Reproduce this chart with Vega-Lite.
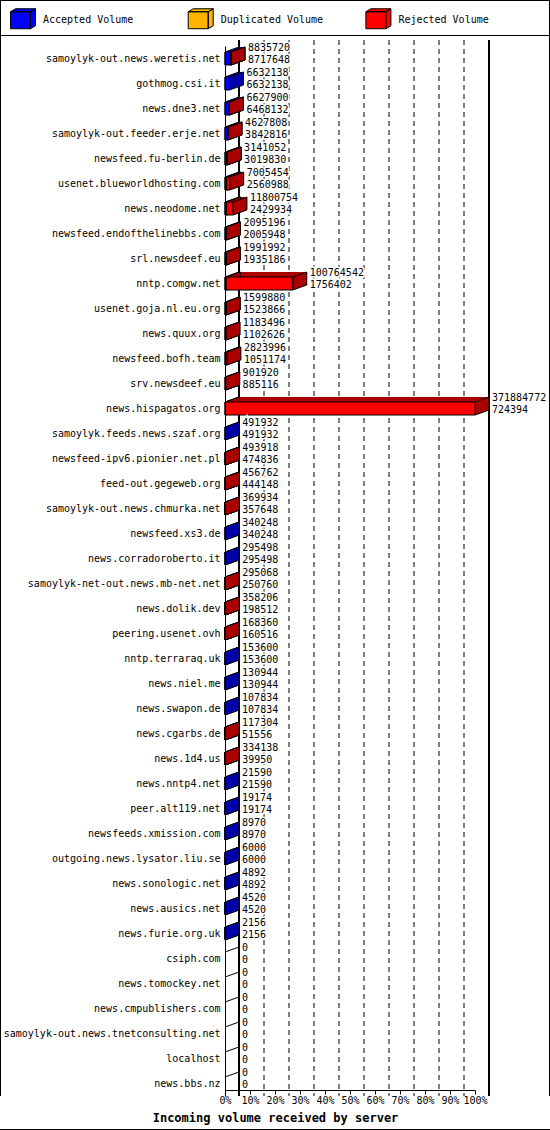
{
  "$schema": "https://vega.github.io/schema/vega-lite/v6.json",
  "width": 250,
  "height": 1050,
  "autosize": {"type": "none"},
  "padding": {"left": 225, "top": 46, "right": 75, "bottom": 34},
  "background": "white",
  "config": {
    "view": {"stroke": null},
    "font": "DejaVu Sans Mono",
    "axisY": {"labelFont": "DejaVu Sans Mono", "labelFontSize": 10, "labelColor": "black", "ticks": false, "domainColor": "black", "labelPadding": 5, "labelLimit": 300, "grid": false},
    "axisX": {"labelFont": "DejaVu Sans Mono", "labelFontSize": 10, "labelColor": "black", "tickColor": "black", "tickSize": 4, "domainColor": "black", "labelPadding": 1, "grid": false, "labelOverlap": false, "labelFlush": false}
  },
  "datasets": {
    "servers": [
      {"server": "samoylyk-out.news.weretis.net", "total": 8835720, "accepted": 8717648, "rejected": 118072},
      {"server": "gothmog.csi.it", "total": 6632138, "accepted": 6632138, "rejected": 0},
      {"server": "news.dne3.net", "total": 6627900, "accepted": 6468132, "rejected": 159768},
      {"server": "samoylyk-out.feeder.erje.net", "total": 4627808, "accepted": 3842816, "rejected": 784992},
      {"server": "newsfeed.fu-berlin.de", "total": 3141052, "accepted": 3019830, "rejected": 121222},
      {"server": "usenet.blueworldhosting.com", "total": 7005454, "accepted": 2560988, "rejected": 4444466},
      {"server": "news.neodome.net", "total": 11800754, "accepted": 2429934, "rejected": 9370820},
      {"server": "newsfeed.endofthelinebbs.com", "total": 2095196, "accepted": 2005948, "rejected": 89248},
      {"server": "srl.newsdeef.eu", "total": 1991992, "accepted": 1935186, "rejected": 56806},
      {"server": "nntp.comgw.net", "total": 100764542, "accepted": 1756402, "rejected": 99008140},
      {"server": "usenet.goja.nl.eu.org", "total": 1599880, "accepted": 1523866, "rejected": 76014},
      {"server": "news.quux.org", "total": 1183496, "accepted": 1102626, "rejected": 80870},
      {"server": "newsfeed.bofh.team", "total": 2823996, "accepted": 1051174, "rejected": 1772822},
      {"server": "srv.newsdeef.eu", "total": 901920, "accepted": 885116, "rejected": 16804},
      {"server": "news.hispagatos.org", "total": 371884772, "accepted": 724394, "rejected": 371160378},
      {"server": "samoylyk.feeds.news.szaf.org", "total": 491932, "accepted": 491932, "rejected": 0},
      {"server": "newsfeed-ipv6.pionier.net.pl", "total": 493918, "accepted": 474836, "rejected": 19082},
      {"server": "feed-out.gegeweb.org", "total": 456762, "accepted": 444148, "rejected": 12614},
      {"server": "samoylyk-out.news.chmurka.net", "total": 369934, "accepted": 357648, "rejected": 12286},
      {"server": "newsfeed.xs3.de", "total": 340248, "accepted": 340248, "rejected": 0},
      {"server": "news.corradoroberto.it", "total": 295498, "accepted": 295498, "rejected": 0},
      {"server": "samoylyk-net-out.news.mb-net.net", "total": 295068, "accepted": 250760, "rejected": 44308},
      {"server": "news.dolik.dev", "total": 358206, "accepted": 198512, "rejected": 159694},
      {"server": "peering.usenet.ovh", "total": 168360, "accepted": 160516, "rejected": 7844},
      {"server": "nntp.terraraq.uk", "total": 153600, "accepted": 153600, "rejected": 0},
      {"server": "news.niel.me", "total": 130944, "accepted": 130944, "rejected": 0},
      {"server": "news.swapon.de", "total": 107834, "accepted": 107834, "rejected": 0},
      {"server": "news.cgarbs.de", "total": 117304, "accepted": 51556, "rejected": 65748},
      {"server": "news.1d4.us", "total": 334138, "accepted": 39950, "rejected": 294188},
      {"server": "news.nntp4.net", "total": 21590, "accepted": 21590, "rejected": 0},
      {"server": "peer.alt119.net", "total": 19174, "accepted": 19174, "rejected": 0},
      {"server": "newsfeeds.xmission.com", "total": 8970, "accepted": 8970, "rejected": 0},
      {"server": "outgoing.news.lysator.liu.se", "total": 6000, "accepted": 6000, "rejected": 0},
      {"server": "news.sonologic.net", "total": 4892, "accepted": 4892, "rejected": 0},
      {"server": "news.ausics.net", "total": 4520, "accepted": 4520, "rejected": 0},
      {"server": "news.furie.org.uk", "total": 2156, "accepted": 2156, "rejected": 0},
      {"server": "csiph.com", "total": 0, "accepted": 0, "rejected": 0},
      {"server": "news.tomockey.net", "total": 0, "accepted": 0, "rejected": 0},
      {"server": "news.cmpublishers.com", "total": 0, "accepted": 0, "rejected": 0},
      {"server": "samoylyk-out.news.tnetconsulting.net", "total": 0, "accepted": 0, "rejected": 0},
      {"server": "localhost", "total": 0, "accepted": 0, "rejected": 0},
      {"server": "news.bbs.nz", "total": 0, "accepted": 0, "rejected": 0}
    ],
    "grid": [
      {"v": 37188477}, {"v": 74376954}, {"v": 111565432}, {"v": 148753909},
      {"v": 185942386}, {"v": 223130863}, {"v": 260319340}, {"v": 297507818},
      {"v": 334696295}
    ]
  },
  "data": {"name": "servers"},
  "layer": [
    {
      "data": {"name": "grid"},
      "mark": {"type": "rule", "color": "black", "strokeWidth": 1, "strokeDash": [5, 4], "xOffset": 14, "yOffset": -6, "y2Offset": -12},
      "encoding": {
        "x": {
          "field": "v", "type": "quantitative",
          "title": "Incoming volume received by server",
          "scale": {"domain": [0, 371884772], "nice": false, "zero": true},
          "axis": {
            "orient": "bottom", "offset": -6, "tickCount": 20,
            "values": [0, 37188477, 74376954, 111565432, 148753909, 185942386, 223130863, 260319340, 297507818, 334696295, 371884772],
            "labelExpr": "round(datum.value / 3718847.72) + '%'",
            "labelOverlap": false, "labelFlush": false, "labelBound": false,
            "titleFont": "DejaVu Sans Mono", "titleFontSize": 12, "titleFontWeight": "bold", "titleColor": "black",
            "titleX": 50, "titleY": 27, "titleAlign": "center", "titleBaseline": "middle"
          }
        }
      }
    },
    {
      "mark": {"type": "rule", "color": "black", "strokeWidth": 1, "xOffset": 14, "yOffset": -6, "y2Offset": -12},
      "encoding": {"x": {"datum": 0, "type": "quantitative", "title": "Incoming volume received by server"}}
    },
    {
      "mark": {"type": "rule", "color": "black", "strokeWidth": 1, "xOffset": 14, "yOffset": -6, "y2Offset": -12},
      "encoding": {"x": {"datum": 371884772, "type": "quantitative", "title": "Incoming volume received by server"}}
    },
    {
      "mark": {"type": "rule", "color": "black", "strokeWidth": 1, "yOffset": -46, "y2Offset": 34},
      "encoding": {"x": {"datum": -333950525, "type": "quantitative", "title": "Incoming volume received by server"}}
    },
    {
      "mark": {"type": "rule", "color": "black", "strokeWidth": 1, "yOffset": -46, "y2Offset": 34},
      "encoding": {"x": {"datum": 482706434, "type": "quantitative", "title": "Incoming volume received by server"}}
    },
    {
      "mark": {"type": "rule", "color": "black", "strokeWidth": 1, "yOffset": -58},
      "encoding": {
        "x": {"datum": -333950525, "type": "quantitative", "title": "Incoming volume received by server"},
        "x2": {"datum": 482706434},
        "y": {"datum": "samoylyk-out.news.weretis.net", "type": "nominal", "title": null}
      }
    },
    {
      "mark": {"type": "rule", "color": "black", "strokeWidth": 1, "yOffset": -23},
      "encoding": {
        "x": {"datum": -333950525, "type": "quantitative", "title": "Incoming volume received by server"},
        "x2": {"datum": 482706434},
        "y": {"datum": "samoylyk-out.news.weretis.net", "type": "nominal", "title": null}
      }
    },
    {
      "mark": {"type": "rule", "color": "black", "strokeWidth": 1, "yOffset": 46},
      "encoding": {
        "x": {"datum": -333950525, "type": "quantitative", "title": "Incoming volume received by server"},
        "x2": {"datum": 482706434},
        "y": {"datum": "news.bbs.nz", "type": "nominal", "title": null}
      }
    },
    {
      "transform": [{"filter": "datum.accepted > 0"}],
      "mark": {"type": "bar", "size": 13, "fill": "#0000AA", "strokeWidth": 0, "xOffset": 14, "x2Offset": 14, "yOffset": -5},
      "encoding": {
        "x": {"field": "accepted", "type": "quantitative", "title": "Incoming volume received by server"},
        "x2": {"datum": 0},
        "y": {
          "field": "server", "type": "nominal", "title": null,
          "scale": {
            "domain": ["samoylyk-out.news.weretis.net", "gothmog.csi.it", "news.dne3.net", "samoylyk-out.feeder.erje.net", "newsfeed.fu-berlin.de", "usenet.blueworldhosting.com", "news.neodome.net", "newsfeed.endofthelinebbs.com", "srl.newsdeef.eu", "nntp.comgw.net", "usenet.goja.nl.eu.org", "news.quux.org", "newsfeed.bofh.team", "srv.newsdeef.eu", "news.hispagatos.org", "samoylyk.feeds.news.szaf.org", "newsfeed-ipv6.pionier.net.pl", "feed-out.gegeweb.org", "samoylyk-out.news.chmurka.net", "newsfeed.xs3.de", "news.corradoroberto.it", "samoylyk-net-out.news.mb-net.net", "news.dolik.dev", "peering.usenet.ovh", "nntp.terraraq.uk", "news.niel.me", "news.swapon.de", "news.cgarbs.de", "news.1d4.us", "news.nntp4.net", "peer.alt119.net", "newsfeeds.xmission.com", "outgoing.news.lysator.liu.se", "news.sonologic.net", "news.ausics.net", "news.furie.org.uk", "csiph.com", "news.tomockey.net", "news.cmpublishers.com", "samoylyk-out.news.tnetconsulting.net", "localhost", "news.bbs.nz"],
            "paddingInner": 0, "paddingOuter": 0
          },
          "axis": {"orient": "left", "domain": true}
        }
      }
    },
    {
      "transform": [{"filter": "datum.accepted > 0"}],
      "mark": {"type": "point", "shape": "M0,-0.4643L1,-0.8214L1,0.1071L0,0.4643Z", "size": 784, "filled": true, "fill": "#0000AA", "stroke": "black", "strokeWidth": 1, "opacity": 1},
      "encoding": {
        "x": {"datum": 0, "type": "quantitative", "title": "Incoming volume received by server"},
        "y": {"field": "server", "type": "nominal", "title": null}
      }
    },
    {
      "transform": [{"filter": "datum.accepted > 0"}],
      "mark": {"type": "point", "shape": "M0,-0.4643L1,-0.8214L1,0.1071L0,0.4643Z", "size": 784, "filled": true, "fill": "#0000AA", "stroke": "black", "strokeWidth": 1, "opacity": 1},
      "encoding": {
        "x": {"field": "accepted", "type": "quantitative", "title": "Incoming volume received by server"},
        "y": {"field": "server", "type": "nominal", "title": null}
      }
    },
    {
      "transform": [{"filter": "datum.accepted > 0"}],
      "mark": {"type": "bar", "size": 13, "stroke": "black", "strokeWidth": 1, "opacity": 1},
      "encoding": {
        "x": {"field": "accepted", "type": "quantitative", "title": "Incoming volume received by server"},
        "x2": {"datum": 0},
        "y": {"field": "server", "type": "nominal", "title": null},
        "color": {
          "datum": "Accepted Volume", "type": "nominal",
          "scale": {"domain": ["Accepted Volume", "Duplicated Volume", "Rejected Volume"], "range": ["#0000FF", "#FFB400", "#FF0000"]},
          "legend": {
            "orient": "none", "legendX": -215, "legendY": -40, "direction": "horizontal", "columns": 3,
            "title": null, "padding": 0, "gridAlign": "all", "columnPadding": 39.7,
            "symbolType": "M-1,-0.615L0.538,-0.615L0.538,0.692L-1,0.692ZM-1,-0.615L-0.615,-0.846L0.923,-0.846L0.538,-0.615ZM0.538,-0.615L0.923,-0.846L0.923,0.462L0.538,0.692Z",
            "symbolSize": 676, "symbolStrokeColor": "black", "symbolStrokeWidth": 1, "symbolOpacity": 1,
            "labelFont": "DejaVu Sans Mono", "labelFontSize": 10, "labelColor": "black", "labelOffset": 6, "labelLimit": 300
          }
        }
      }
    },
    {
      "transform": [{"filter": "datum.rejected > 0"}],
      "mark": {"type": "bar", "size": 13, "fill": "#AA0000", "strokeWidth": 0, "xOffset": 14, "x2Offset": 14, "yOffset": -5},
      "encoding": {
        "x": {"field": "accepted", "type": "quantitative", "title": "Incoming volume received by server"},
        "x2": {"field": "total"},
        "y": {"field": "server", "type": "nominal", "title": null}
      }
    },
    {
      "transform": [{"filter": "datum.rejected > 0"}],
      "mark": {"type": "point", "shape": "M0,-0.4643L1,-0.8214L1,0.1071L0,0.4643Z", "size": 784, "filled": true, "fill": "#AA0000", "stroke": "black", "strokeWidth": 1, "opacity": 1},
      "encoding": {
        "x": {"field": "accepted", "type": "quantitative", "title": "Incoming volume received by server"},
        "y": {"field": "server", "type": "nominal", "title": null}
      }
    },
    {
      "transform": [{"filter": "datum.rejected > 0"}],
      "mark": {"type": "point", "shape": "M0,-0.4643L1,-0.8214L1,0.1071L0,0.4643Z", "size": 784, "filled": true, "fill": "#AA0000", "stroke": "black", "strokeWidth": 1, "opacity": 1},
      "encoding": {
        "x": {"field": "total", "type": "quantitative", "title": "Incoming volume received by server"},
        "y": {"field": "server", "type": "nominal", "title": null}
      }
    },
    {
      "transform": [{"filter": "datum.rejected > 0"}],
      "mark": {"type": "bar", "size": 13, "stroke": "black", "strokeWidth": 1, "opacity": 1},
      "encoding": {
        "x": {"field": "accepted", "type": "quantitative", "title": "Incoming volume received by server"},
        "x2": {"field": "total"},
        "y": {"field": "server", "type": "nominal", "title": null},
        "color": {"datum": "Rejected Volume", "type": "nominal"}
      }
    },
    {
      "transform": [{"filter": "datum.total == 0"}],
      "mark": {"type": "point", "shape": "M0,-0.4643L1,-0.8214", "size": 784, "filled": false, "stroke": "black", "strokeWidth": 1, "opacity": 1},
      "encoding": {
        "x": {"datum": 0, "type": "quantitative", "title": "Incoming volume received by server"},
        "y": {"field": "server", "type": "nominal", "title": null}
      }
    },
    {
      "mark": {"type": "text", "align": "left", "baseline": "middle", "dx": 17, "dy": -11, "font": "DejaVu Sans Mono", "fontSize": 10, "fill": "white", "stroke": "white", "strokeWidth": 3},
      "encoding": {
        "x": {"field": "total", "type": "quantitative", "title": "Incoming volume received by server"},
        "y": {"field": "server", "type": "nominal", "title": null},
        "text": {"field": "total", "type": "quantitative", "format": "d"}
      }
    },
    {
      "mark": {"type": "text", "align": "left", "baseline": "middle", "dx": 17, "dy": 1, "font": "DejaVu Sans Mono", "fontSize": 10, "fill": "white", "stroke": "white", "strokeWidth": 3},
      "encoding": {
        "x": {"field": "total", "type": "quantitative", "title": "Incoming volume received by server"},
        "y": {"field": "server", "type": "nominal", "title": null},
        "text": {"field": "accepted", "type": "quantitative", "format": "d"}
      }
    },
    {
      "mark": {"type": "text", "align": "left", "baseline": "middle", "dx": 17, "dy": -11, "font": "DejaVu Sans Mono", "fontSize": 10, "color": "black"},
      "encoding": {
        "x": {"field": "total", "type": "quantitative", "title": "Incoming volume received by server"},
        "y": {"field": "server", "type": "nominal", "title": null},
        "text": {"field": "total", "type": "quantitative", "format": "d"}
      }
    },
    {
      "mark": {"type": "text", "align": "left", "baseline": "middle", "dx": 17, "dy": 1, "font": "DejaVu Sans Mono", "fontSize": 10, "color": "black"},
      "encoding": {
        "x": {"field": "total", "type": "quantitative", "title": "Incoming volume received by server"},
        "y": {"field": "server", "type": "nominal", "title": null},
        "text": {"field": "accepted", "type": "quantitative", "format": "d"}
      }
    }
  ]
}
